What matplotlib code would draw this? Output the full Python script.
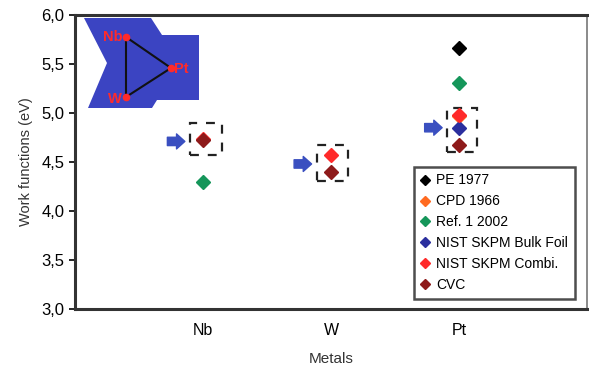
import matplotlib
matplotlib.use('Agg')
import matplotlib.pyplot as plt
import numpy as np
from matplotlib.patches import Rectangle, Polygon

plt.rcParams['font.family'] = ['Liberation Sans', 'DejaVu Sans']

# categories (x positions 1, 2, 3)
metals = ['Nb', 'W', 'Pt']
x_pos = [1, 2, 3]

# work functions (eV), nan = not measured
pe_1977 = [np.nan, np.nan, 5.66]
cpd_1966 = [np.nan, np.nan, 4.97]
ref1_2002 = [4.30, np.nan, 5.31]
nist_bulk = [np.nan, np.nan, 4.85]
nist_combi = [4.73, 4.57, 4.98]
cvc = [4.72, 4.40, 4.67]

series = [
    ('PE 1977', pe_1977, '#000000'),
    ('CPD 1966', cpd_1966, '#ff6a20'),
    ('Ref. 1 2002', ref1_2002, '#15965a'),
    ('NIST SKPM Bulk Foil', nist_bulk, '#2b2f9e'),
    ('NIST SKPM Combi.', nist_combi, '#ff2a2a'),
    ('CVC', cvc, '#8e1a1a'),
]

# highlighted boxes: (x0, x1, y0, y1) and arrow level
boxes = [(0.90, 1.15, 4.57, 4.90), (1.89, 2.13, 4.31, 4.67), (2.91, 3.14, 4.60, 5.05)]
arrow_y = [4.71, 4.48, 4.85]

fig = plt.figure(figsize=(5.89, 3.69), dpi=100)
ax = fig.add_axes([75 / 589, 1 - 309 / 369, 512 / 589, 294 / 369])

for label, vals, color in series:
    ax.plot(x_pos, vals, linestyle='none', marker='D', markersize=7,
            color=color, markeredgecolor=color, label=label)

for (x0, x1, y0, y1), ya, xc in zip(boxes, arrow_y, x_pos):
    ax.add_patch(Rectangle((x0, y0), x1 - x0, y1 - y0, fill=False,
                           edgecolor='#222222', linewidth=1.6,
                           linestyle=(0, (4, 4))))
    ax.annotate('', xy=(x0 - 0.02, ya), xytext=(x0 - 0.2, ya),
                arrowprops=dict(arrowstyle='simple,head_length=0.5,head_width=0.9,tail_width=0.5',
                                color='#3a4fc0', mutation_scale=12))

ax.set_xlim(0, 4)
ax.set_ylim(3.0, 6.0)
ax.set_xticks(x_pos)
ax.set_xticklabels(metals, fontsize=11.5)
ax.tick_params(axis='x', length=0, pad=10)
yt = np.arange(3.0, 6.01, 0.5)
ax.set_yticks(yt)
ax.set_yticklabels([f'{v:.1f}'.replace('.', ',') for v in yt], fontsize=12)
ax.tick_params(axis='y', length=4, width=1.2, direction='out')
ax.set_xlabel('Metals', fontsize=11, color='#333333', labelpad=10)
ax.set_ylabel('Work functions (eV)', fontsize=10.5, color='#333333', labelpad=6)
for side in ['left', 'bottom', 'top']:
    ax.spines[side].set_linewidth(2.2)
    ax.spines[side].set_color('#333333')
ax.spines['right'].set_linewidth(1.2)
ax.spines['right'].set_color('#777777')

leg = ax.legend(loc='lower right', bbox_to_anchor=(0.99, 0.01), fontsize=10,
                frameon=True, fancybox=False, edgecolor='#222222',
                handlelength=0.6, handletextpad=0.5, borderpad=0.5,
                labelspacing=0.5, markerscale=0.75)
leg.get_frame().set_linewidth(1.8)

# inset sketch (pixel coords)
ins = fig.add_axes([80 / 589, 1 - 112 / 369, 125 / 589, 98 / 369])
ins.set_xlim(80, 205)
ins.set_ylim(112, 14)
ins.axis('off')
shape = [(84, 18), (151, 18), (162, 35), (199, 35), (199, 100),
         (157, 100), (152, 108), (88, 108), (107, 63)]
ins.add_patch(Polygon(shape, closed=True, facecolor='#3b44c2', edgecolor='none'))
tri_x = [126, 171, 126]
tri_y = [37, 68, 97]
ins.add_patch(Polygon(list(zip(tri_x, tri_y)), closed=True, fill=False,
                      edgecolor='#111111', linewidth=1.5))
ins.plot(tri_x, tri_y, linestyle='none', marker='o', markersize=4.5, color='#ff2a2a')
ins.text(123, 37, 'Nb', color='#ff2a2a', fontsize=10.5, fontweight='bold', ha='right', va='center')
ins.text(174, 69, 'Pt', color='#ff2a2a', fontsize=10.5, fontweight='bold', ha='left', va='center')
ins.text(122, 99, 'W', color='#ff2a2a', fontsize=10.5, fontweight='bold', ha='right', va='center')

fig.savefig('out.png', dpi=100)
